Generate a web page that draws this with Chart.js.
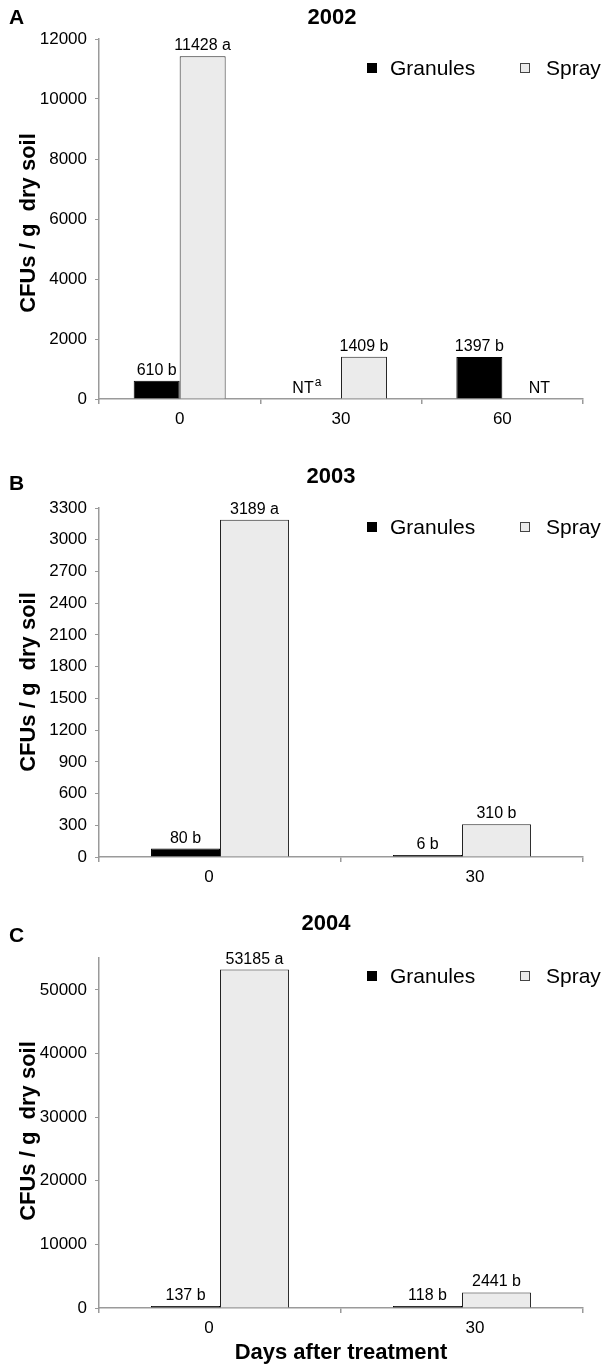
<!DOCTYPE html>
<html>
<head>
<meta charset="utf-8">
<script src="https://cdn.jsdelivr.net/npm/chart.js@4.4.0/dist/chart.umd.min.js"></script>
<style>
  html, body { margin: 0; padding: 0; background: #fff; }
  #wrap { position: relative; width: 605px; height: 1366px; }
  canvas { position: absolute; left: 0; }
</style>
</head>
<body>
<div id="wrap">
  <canvas id="cA" width="605" height="440" style="top:0px"></canvas>
  <canvas id="cB" width="605" height="460" style="top:440px"></canvas>
  <canvas id="cC" width="605" height="466" style="top:900px"></canvas>
</div>
<script>
// ---------- DATA ----------
const seriesNames = ['Granules', 'Spray'];

const days2002 = ['0', '30', '60'];
const granules2002 = [610, null, 1397];
const spray2002 = [11428, 1409, null];
const granulesLetters2002 = ['b', null, 'b'];
const sprayLetters2002 = ['a', 'b', null];
const yMax2002 = 12000;
const yTicks2002 = [0, 2000, 4000, 6000, 8000, 10000, 12000];

const days2003 = ['0', '30'];
const granules2003 = [80, 6];
const spray2003 = [3189, 310];
const granulesLetters2003 = ['b', 'b'];
const sprayLetters2003 = ['a', 'b'];
const yMax2003 = 3300;
const yTicks2003 = [0, 300, 600, 900, 1200, 1500, 1800, 2100, 2400, 2700, 3000, 3300];

const days2004 = ['0', '30'];
const granules2004 = [137, 118];
const spray2004 = [53185, 2441];
const granulesLetters2004 = ['b', 'b'];
const sprayLetters2004 = ['a', 'b'];
const yMax2004 = 55000;
const yTicks2004 = [0, 10000, 20000, 30000, 40000, 50000];

// ---------- STYLE ----------
const FONT = '"Liberation Sans", Arial, Helvetica, sans-serif';
const AXIS = '#9a9a9a';
const GRAN_FILL = '#000000';
const SPRAY_FILL = '#ebebeb';

const annot = {
  id: 'annot',
  afterDraw(chart, args, o) {
    const ctx = chart.ctx;
    ctx.save();
    ctx.fillStyle = '#000';
    // panel letter
    ctx.textBaseline = 'middle';
    ctx.textAlign = 'left';
    ctx.font = `bold 21px ${FONT}`;
    ctx.fillText(o.letter, 9, o.letterY);
    // title
    ctx.textAlign = 'center';
    ctx.font = `bold 22px ${FONT}`;
    ctx.fillText(o.title, o.titleX, o.titleY);
    // legend
    ctx.font = `21px ${FONT}`;
    ctx.textAlign = 'left';
    const lg = [
      { x: 367, tx: 390, fill: GRAN_FILL, stroke: '#000' },
      { x: 520, tx: 546, fill: SPRAY_FILL, stroke: '#444' }
    ];
    lg.forEach((l, i) => {
      ctx.fillStyle = l.fill;
      ctx.fillRect(l.x, o.legendY - 5, 10, 10);
      ctx.strokeStyle = l.stroke;
      ctx.lineWidth = 1;
      ctx.strokeRect(l.x + 0.5, o.legendY - 4.5, 9, 9);
      ctx.fillStyle = '#000';
      ctx.fillText(seriesNames[i], l.tx, o.legendY + 1);
    });
    // y title
    ctx.save();
    ctx.translate(29, o.yTitleY);
    ctx.rotate(-Math.PI / 2);
    ctx.textAlign = 'center';
    ctx.textBaseline = 'middle';
    ctx.font = `bold 22px ${FONT}`;
    ctx.fillText('CFUs / g  dry soil', 0, 0);
    ctx.restore();
    // x category labels (positioned from the category scale)
    const xs = chart.scales.x;
    const base = chart.scales.y.getPixelForValue(0);
    ctx.textAlign = 'center';
    ctx.textBaseline = 'top';
    ctx.font = `17px ${FONT}`;
    chart.data.labels.forEach((lab, i) => {
      ctx.fillText(lab, xs.getPixelForTick(i) + (o.labelShift ? o.labelShift[i] : 0), base + 12);
    });
    // x title
    if (o.xTitle) {
      ctx.textAlign = 'center';
      ctx.textBaseline = 'middle';
      ctx.font = `bold 22px ${FONT}`;
      ctx.fillText(o.xTitle, (chart.chartArea.left + chart.chartArea.right) / 2, o.xTitleY);
    }
    // bar value labels
    ctx.textAlign = 'center';
    ctx.textBaseline = 'alphabetic';
    chart.data.datasets.forEach((ds, di) => {
      const meta = chart.getDatasetMeta(di);
      ds.data.forEach((v, i) => {
        const bar = meta.data[i];
        if (v == null) {
          const nt = (o.nt || []).find(n => n.ds === di && n.i === i);
          if (!nt) return;
          const cx = bar.x + nt.dx;
          ctx.font = `16px ${FONT}`;
          const w = ctx.measureText('NT').width;
          ctx.textAlign = 'left';
          ctx.fillText('NT', cx - w / 2, base - 6);
          if (nt.sup) {
            ctx.font = `12px ${FONT}`;
            ctx.fillText(nt.sup, cx + w / 2 + 1, base - 13);
          }
          ctx.textAlign = 'center';
          return;
        }
        ctx.font = `16px ${FONT}`;
        ctx.fillText(v + ' ' + ds.letters[i], bar.x, bar.y - 6);
      });
    });
    ctx.restore();
  }
};

function makeChart(id, labels, gran, spray, gLet, sLet, yMax, yTickVals, lay) {
  const H = document.getElementById(id).height;
  return new Chart(document.getElementById(id), {
    type: 'bar',
    data: {
      labels: labels,
      datasets: [
        { label: seriesNames[0], data: gran, letters: gLet, backgroundColor: GRAN_FILL, borderColor: '#000', borderWidth: 1, minBarLength: 2 },
        { label: seriesNames[1], data: spray, letters: sLet, backgroundColor: SPRAY_FILL, borderColor: '#222', borderWidth: 1, minBarLength: 2 }
      ]
    },
    options: {
      responsive: false,
      animation: false,
      events: [],
      layout: { padding: { top: lay.top, right: 22, left: 0, bottom: 0 } },
      datasets: { bar: { categoryPercentage: 0.57, barPercentage: 1.0 } },
      plugins: {
        legend: { display: false },
        title: { display: false },
        tooltip: { enabled: false },
        annot: lay.annot
      },
      scales: {
        x: {
          grid: { drawOnChartArea: false, drawTicks: true, tickLength: 5, color: AXIS, lineWidth: 1.5, offset: true },
          border: { color: AXIS, width: 1.5 },
          ticks: { display: false },
          afterFit(s) { s.height = H - lay.bottom; }
        },
        y: {
          min: 0,
          max: yMax,
          grid: { drawOnChartArea: false, drawTicks: true, tickLength: 4, color: AXIS, lineWidth: 1 },
          border: { color: AXIS, width: 1.5 },
          ticks: { color: '#000', font: { family: FONT, size: 17 }, padding: 8, callback: v => String(v) },
          afterBuildTicks(s) { s.ticks = yTickVals.map(v => ({ value: v })); },
          afterFit(s) { s.width = 99; }
        }
      }
    },
    plugins: [annot]
  });
}

makeChart('cA', days2002, granules2002, spray2002, granulesLetters2002, sprayLetters2002, yMax2002, yTicks2002, {
  top: 39, bottom: 399,
  annot: { letter: 'A', letterY: 18, title: '2002', titleX: 332, titleY: 18, legendY: 68, yTitleY: 223,
           nt: [{ ds: 0, i: 1, sup: 'a', dx: -15 }, { ds: 1, i: 2, sup: null, dx: 14 }] }
});
makeChart('cB', days2003, granules2003, spray2003, granulesLetters2003, sprayLetters2003, yMax2003, yTicks2003, {
  top: 68, bottom: 417,
  annot: { letter: 'B', letterY: 44, title: '2003', titleX: 331, titleY: 37, legendY: 87, yTitleY: 242,
           labelShift: [-11, 13] }
});
makeChart('cC', days2004, granules2004, spray2004, granulesLetters2004, sprayLetters2004, yMax2004, yTicks2004, {
  top: 58, bottom: 408,
  annot: { letter: 'C', letterY: 36, title: '2004', titleX: 326, titleY: 24, legendY: 76, yTitleY: 231,
           xTitle: 'Days after treatment', xTitleY: 453, labelShift: [-11, 13] }
});
</script>
</body>
</html>
